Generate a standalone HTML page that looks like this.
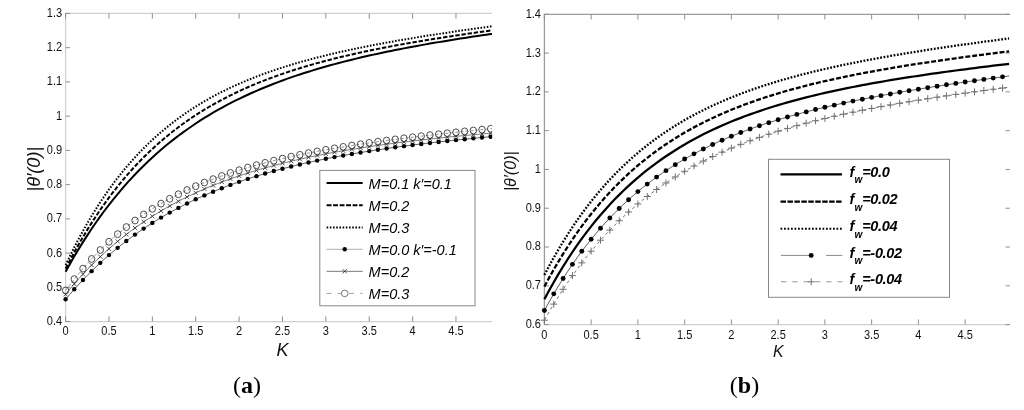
<!DOCTYPE html>
<html><head><meta charset="utf-8"><style>
html,body{margin:0;padding:0;background:#fff;}
body{width:1024px;height:410px;overflow:hidden;}
svg{display:block;will-change:transform;filter:blur(0.3px);}
text{font-family:"Liberation Sans",sans-serif;}
.tk{font-size:12px;fill:#111;}
.lg{font-size:14.5px;font-style:italic;fill:#000;}
.lb{font-size:14.5px;font-style:italic;font-weight:bold;fill:#000;}
.yl{font-style:italic;fill:#111;}
.kl{font-style:italic;fill:#111;}
.pl{font-family:"Liberation Serif",serif;font-weight:bold;font-size:24px;fill:#000;}
</style></head><body>
<svg width="1024" height="410" viewBox="0 0 1024 410">
<rect width="1024" height="410" fill="#fff"/>
<path d="M65.60,321.60 L492.00,321.60" stroke="#d0d0d0" stroke-width="1.3" fill="none"/>
<path d="M65.60,321.60 L65.60,13.44 L492.00,13.44" stroke="#d0d0d0" stroke-width="1.3" fill="none"/>
<path d="M65.60,321.60 L65.60,316.40 M65.60,13.44 L65.60,18.64 M108.97,321.60 L108.97,316.40 M108.97,13.44 L108.97,18.64 M152.35,321.60 L152.35,316.40 M152.35,13.44 L152.35,18.64 M195.72,321.60 L195.72,316.40 M195.72,13.44 L195.72,18.64 M239.10,321.60 L239.10,316.40 M239.10,13.44 L239.10,18.64 M282.48,321.60 L282.48,316.40 M282.48,13.44 L282.48,18.64 M325.85,321.60 L325.85,316.40 M325.85,13.44 L325.85,18.64 M369.23,321.60 L369.23,316.40 M369.23,13.44 L369.23,18.64 M412.60,321.60 L412.60,316.40 M412.60,13.44 L412.60,18.64 M455.98,321.60 L455.98,316.40 M455.98,13.44 L455.98,18.64 M65.60,321.60 L70.00,321.60 M65.60,287.36 L70.00,287.36 M65.60,253.12 L70.00,253.12 M65.60,218.88 L70.00,218.88 M65.60,184.64 L70.00,184.64 M65.60,150.40 L70.00,150.40 M65.60,116.16 L70.00,116.16 M65.60,81.92 L70.00,81.92 M65.60,47.68 L70.00,47.68 M65.60,13.44 L70.00,13.44" stroke="#8e8e8e" stroke-width="1" fill="none"/>
<text transform="translate(65.60,335.00) scale(0.92,1)" text-anchor="middle" class="tk">0</text>
<text transform="translate(108.97,335.00) scale(0.92,1)" text-anchor="middle" class="tk">0.5</text>
<text transform="translate(152.35,335.00) scale(0.92,1)" text-anchor="middle" class="tk">1</text>
<text transform="translate(195.72,335.00) scale(0.92,1)" text-anchor="middle" class="tk">1.5</text>
<text transform="translate(239.10,335.00) scale(0.92,1)" text-anchor="middle" class="tk">2</text>
<text transform="translate(282.48,335.00) scale(0.92,1)" text-anchor="middle" class="tk">2.5</text>
<text transform="translate(325.85,335.00) scale(0.92,1)" text-anchor="middle" class="tk">3</text>
<text transform="translate(369.23,335.00) scale(0.92,1)" text-anchor="middle" class="tk">3.5</text>
<text transform="translate(412.60,335.00) scale(0.92,1)" text-anchor="middle" class="tk">4</text>
<text transform="translate(455.98,335.00) scale(0.92,1)" text-anchor="middle" class="tk">4.5</text>
<text transform="translate(62.20,325.05) scale(0.92,1)" text-anchor="end" class="tk">0.4</text>
<text transform="translate(62.20,290.81) scale(0.92,1)" text-anchor="end" class="tk">0.5</text>
<text transform="translate(62.20,256.57) scale(0.92,1)" text-anchor="end" class="tk">0.6</text>
<text transform="translate(62.20,222.33) scale(0.92,1)" text-anchor="end" class="tk">0.7</text>
<text transform="translate(62.20,188.09) scale(0.92,1)" text-anchor="end" class="tk">0.8</text>
<text transform="translate(62.20,153.85) scale(0.92,1)" text-anchor="end" class="tk">0.9</text>
<text transform="translate(62.20,119.61) scale(0.92,1)" text-anchor="end" class="tk">1</text>
<text transform="translate(62.20,85.37) scale(0.92,1)" text-anchor="end" class="tk">1.1</text>
<text transform="translate(62.20,51.13) scale(0.92,1)" text-anchor="end" class="tk">1.2</text>
<text transform="translate(62.20,16.89) scale(0.92,1)" text-anchor="end" class="tk">1.3</text>
<path d="M544.40,324.60 L1009.80,324.60" stroke="#d0d0d0" stroke-width="1.3" fill="none"/>
<path d="M544.40,324.60 L544.40,14.30 L1009.80,14.30" stroke="#9c9c9c" stroke-width="1.3" fill="none"/>
<path d="M544.40,324.60 L544.40,319.40 M544.40,14.30 L544.40,19.50 M591.15,324.60 L591.15,319.40 M591.15,14.30 L591.15,19.50 M637.90,324.60 L637.90,319.40 M637.90,14.30 L637.90,19.50 M684.65,324.60 L684.65,319.40 M684.65,14.30 L684.65,19.50 M731.40,324.60 L731.40,319.40 M731.40,14.30 L731.40,19.50 M778.15,324.60 L778.15,319.40 M778.15,14.30 L778.15,19.50 M824.90,324.60 L824.90,319.40 M824.90,14.30 L824.90,19.50 M871.65,324.60 L871.65,319.40 M871.65,14.30 L871.65,19.50 M918.40,324.60 L918.40,319.40 M918.40,14.30 L918.40,19.50 M965.15,324.60 L965.15,319.40 M965.15,14.30 L965.15,19.50 M544.40,324.60 L548.80,324.60 M1009.80,324.60 L1005.60,324.60 M544.40,285.81 L548.80,285.81 M1009.80,285.81 L1005.60,285.81 M544.40,247.02 L548.80,247.02 M1009.80,247.02 L1005.60,247.02 M544.40,208.23 L548.80,208.23 M1009.80,208.23 L1005.60,208.23 M544.40,169.44 L548.80,169.44 M1009.80,169.44 L1005.60,169.44 M544.40,130.65 L548.80,130.65 M1009.80,130.65 L1005.60,130.65 M544.40,91.86 L548.80,91.86 M1009.80,91.86 L1005.60,91.86 M544.40,53.07 L548.80,53.07 M1009.80,53.07 L1005.60,53.07 M544.40,14.28 L548.80,14.28 M1009.80,14.28 L1005.60,14.28" stroke="#8e8e8e" stroke-width="1" fill="none"/>
<text transform="translate(544.40,339.00) scale(0.92,1)" text-anchor="middle" class="tk">0</text>
<text transform="translate(591.15,339.00) scale(0.92,1)" text-anchor="middle" class="tk">0.5</text>
<text transform="translate(637.90,339.00) scale(0.92,1)" text-anchor="middle" class="tk">1</text>
<text transform="translate(684.65,339.00) scale(0.92,1)" text-anchor="middle" class="tk">1.5</text>
<text transform="translate(731.40,339.00) scale(0.92,1)" text-anchor="middle" class="tk">2</text>
<text transform="translate(778.15,339.00) scale(0.92,1)" text-anchor="middle" class="tk">2.5</text>
<text transform="translate(824.90,339.00) scale(0.92,1)" text-anchor="middle" class="tk">3</text>
<text transform="translate(871.65,339.00) scale(0.92,1)" text-anchor="middle" class="tk">3.5</text>
<text transform="translate(918.40,339.00) scale(0.92,1)" text-anchor="middle" class="tk">4</text>
<text transform="translate(965.15,339.00) scale(0.92,1)" text-anchor="middle" class="tk">4.5</text>
<text transform="translate(541.00,328.05) scale(0.92,1)" text-anchor="end" class="tk">0.6</text>
<text transform="translate(541.00,289.26) scale(0.92,1)" text-anchor="end" class="tk">0.7</text>
<text transform="translate(541.00,250.47) scale(0.92,1)" text-anchor="end" class="tk">0.8</text>
<text transform="translate(541.00,211.68) scale(0.92,1)" text-anchor="end" class="tk">0.9</text>
<text transform="translate(541.00,172.89) scale(0.92,1)" text-anchor="end" class="tk">1</text>
<text transform="translate(541.00,134.10) scale(0.92,1)" text-anchor="end" class="tk">1.1</text>
<text transform="translate(541.00,95.31) scale(0.92,1)" text-anchor="end" class="tk">1.2</text>
<text transform="translate(541.00,56.52) scale(0.92,1)" text-anchor="end" class="tk">1.3</text>
<text transform="translate(541.00,17.73) scale(0.92,1)" text-anchor="end" class="tk">1.4</text>
<defs><clipPath id="ca"><rect x="60" y="13" width="432.2" height="312"/></clipPath><clipPath id="cb"><rect x="540" y="14" width="470" height="314"/></clipPath></defs>
<g clip-path="url(#ca)">
<path d="M65.60,299.32 L69.94,294.23 L74.27,289.31 L78.61,284.54 L82.95,279.93 L87.29,275.46 L91.62,271.13 L95.96,266.93 L100.30,262.87 L104.64,258.93 L108.97,255.12 L113.31,251.42 L117.65,247.84 L121.99,244.37 L126.33,241.01 L130.66,237.76 L135.00,234.60 L139.34,231.54 L143.68,228.58 L148.01,225.70 L152.35,222.92 L156.69,220.22 L161.03,217.60 L165.36,215.06 L169.70,212.60 L174.04,210.21 L178.38,207.89 L182.71,205.64 L187.05,203.47 L191.39,201.35 L195.72,199.30 L200.06,197.31 L204.40,195.38 L208.74,193.50 L213.08,191.68 L217.41,189.92 L221.75,188.20 L226.09,186.54 L230.43,184.92 L234.76,183.35 L239.10,181.83 L243.44,180.34 L247.78,178.90 L252.11,177.50 L256.45,176.14 L260.79,174.82 L265.12,173.54 L269.46,172.29 L273.80,171.07 L278.14,169.89 L282.48,168.74 L286.81,167.63 L291.15,166.54 L295.49,165.48 L299.83,164.45 L304.16,163.44 L308.50,162.47 L312.84,161.51 L317.18,160.59 L321.51,159.68 L325.85,158.80 L330.19,157.95 L334.52,157.11 L338.86,156.29 L343.20,155.50 L347.54,154.72 L351.88,153.96 L356.21,153.23 L360.55,152.50 L364.89,151.80 L369.23,151.11 L373.56,150.44 L377.90,149.78 L382.24,149.14 L386.58,148.51 L390.91,147.90 L395.25,147.30 L399.59,146.71 L403.93,146.14 L408.26,145.58 L412.60,145.03 L416.94,144.49 L421.28,143.96 L425.61,143.44 L429.95,142.94 L434.29,142.44 L438.62,141.95 L442.96,141.47 L447.30,141.01 L451.64,140.55 L455.98,140.09 L460.31,139.65 L464.65,139.21 L468.99,138.79 L473.33,138.37 L477.66,137.95 L482.00,137.54 L486.34,137.14 L490.68,136.75 L491.98,136.63" stroke="#333" stroke-width="0.8" fill="none"/>
<path d="M65.60,294.33 L69.94,289.04 L74.27,283.94 L78.61,279.00 L82.95,274.23 L87.29,269.62 L91.62,265.17 L95.96,260.86 L100.30,256.69 L104.64,252.67 L108.97,248.78 L113.31,245.01 L117.65,241.38 L121.99,237.86 L126.33,234.46 L130.66,231.17 L135.00,227.98 L139.34,224.91 L143.68,221.93 L148.01,219.05 L152.35,216.26 L156.69,213.56 L161.03,210.95 L165.36,208.43 L169.70,205.98 L174.04,203.61 L178.38,201.32 L182.71,199.11 L187.05,196.96 L191.39,194.88 L195.72,192.86 L200.06,190.91 L204.40,189.02 L208.74,187.19 L213.08,185.41 L217.41,183.69 L221.75,182.03 L226.09,180.41 L230.43,178.84 L234.76,177.33 L239.10,175.85 L243.44,174.42 L247.78,173.04 L252.11,171.69 L256.45,170.38 L260.79,169.12 L265.12,167.89 L269.46,166.69 L273.80,165.53 L278.14,164.40 L282.48,163.31 L286.81,162.25 L291.15,161.21 L295.49,160.21 L299.83,159.23 L304.16,158.28 L308.50,157.35 L312.84,156.45 L317.18,155.58 L321.51,154.73 L325.85,153.90 L330.19,153.09 L334.52,152.30 L338.86,151.53 L343.20,150.78 L347.54,150.06 L351.88,149.34 L356.21,148.65 L360.55,147.97 L364.89,147.31 L369.23,146.67 L373.56,146.04 L377.90,145.43 L382.24,144.83 L386.58,144.24 L390.91,143.66 L395.25,143.10 L399.59,142.55 L403.93,142.02 L408.26,141.49 L412.60,140.98 L416.94,140.47 L421.28,139.98 L425.61,139.49 L429.95,139.02 L434.29,138.56 L438.62,138.10 L442.96,137.65 L447.30,137.21 L451.64,136.78 L455.98,136.36 L460.31,135.94 L464.65,135.53 L468.99,135.13 L473.33,134.73 L477.66,134.34 L482.00,133.96 L486.34,133.58 L490.68,133.21 L491.98,133.10" stroke="#555" stroke-width="0.8" fill="none"/>
<path d="M65.60,290.45 L69.94,284.66 L74.27,279.10 L78.61,273.76 L82.95,268.63 L87.29,263.70 L91.62,258.96 L95.96,254.40 L100.30,250.02 L104.64,245.81 L108.97,241.77 L113.31,237.87 L117.65,234.13 L121.99,230.53 L126.33,227.06 L130.66,223.73 L135.00,220.52 L139.34,217.43 L143.68,214.46 L148.01,211.59 L152.35,208.84 L156.69,206.18 L161.03,203.62 L165.36,201.15 L169.70,198.77 L174.04,196.48 L178.38,194.27 L182.71,192.14 L187.05,190.08 L191.39,188.09 L195.72,186.17 L200.06,184.32 L204.40,182.53 L208.74,180.81 L213.08,179.14 L217.41,177.52 L221.75,175.96 L226.09,174.45 L230.43,172.99 L234.76,171.57 L239.10,170.21 L243.44,168.88 L247.78,167.59 L252.11,166.35 L256.45,165.14 L260.79,163.97 L265.12,162.83 L269.46,161.73 L273.80,160.65 L278.14,159.61 L282.48,158.60 L286.81,157.61 L291.15,156.66 L295.49,155.73 L299.83,154.82 L304.16,153.93 L308.50,153.07 L312.84,152.23 L317.18,151.41 L321.51,150.62 L325.85,149.84 L330.19,149.07 L334.52,148.33 L338.86,147.60 L343.20,146.89 L347.54,146.20 L351.88,145.52 L356.21,144.85 L360.55,144.19 L364.89,143.55 L369.23,142.93 L373.56,142.31 L377.90,141.71 L382.24,141.11 L386.58,140.53 L390.91,139.95 L395.25,139.39 L399.59,138.84 L403.93,138.29 L408.26,137.75 L412.60,137.22 L416.94,136.70 L421.28,136.19 L425.61,135.68 L429.95,135.18 L434.29,134.69 L438.62,134.20 L442.96,133.72 L447.30,133.24 L451.64,132.77 L455.98,132.31 L460.31,131.85 L464.65,131.39 L468.99,130.94 L473.33,130.50 L477.66,130.06 L482.00,129.62 L486.34,129.19 L490.68,128.76 L491.98,128.63" stroke="#777" stroke-width="0.8" fill="none" stroke-dasharray="3 2"/>
<ellipse cx="65.60" cy="290.45" rx="3.2" ry="3.45" fill="none" stroke="#3a3a3a" stroke-width="0.9"/><ellipse cx="74.27" cy="279.10" rx="3.2" ry="3.45" fill="none" stroke="#3a3a3a" stroke-width="0.9"/><ellipse cx="82.95" cy="268.63" rx="3.2" ry="3.45" fill="none" stroke="#3a3a3a" stroke-width="0.9"/><ellipse cx="91.62" cy="258.96" rx="3.2" ry="3.45" fill="none" stroke="#3a3a3a" stroke-width="0.9"/><ellipse cx="100.30" cy="250.02" rx="3.2" ry="3.45" fill="none" stroke="#3a3a3a" stroke-width="0.9"/><ellipse cx="108.97" cy="241.77" rx="3.2" ry="3.45" fill="none" stroke="#3a3a3a" stroke-width="0.9"/><ellipse cx="117.65" cy="234.13" rx="3.2" ry="3.45" fill="none" stroke="#3a3a3a" stroke-width="0.9"/><ellipse cx="126.32" cy="227.06" rx="3.2" ry="3.45" fill="none" stroke="#3a3a3a" stroke-width="0.9"/><ellipse cx="135.00" cy="220.52" rx="3.2" ry="3.45" fill="none" stroke="#3a3a3a" stroke-width="0.9"/><ellipse cx="143.68" cy="214.46" rx="3.2" ry="3.45" fill="none" stroke="#3a3a3a" stroke-width="0.9"/><ellipse cx="152.35" cy="208.84" rx="3.2" ry="3.45" fill="none" stroke="#3a3a3a" stroke-width="0.9"/><ellipse cx="161.03" cy="203.62" rx="3.2" ry="3.45" fill="none" stroke="#3a3a3a" stroke-width="0.9"/><ellipse cx="169.70" cy="198.77" rx="3.2" ry="3.45" fill="none" stroke="#3a3a3a" stroke-width="0.9"/><ellipse cx="178.38" cy="194.27" rx="3.2" ry="3.45" fill="none" stroke="#3a3a3a" stroke-width="0.9"/><ellipse cx="187.05" cy="190.08" rx="3.2" ry="3.45" fill="none" stroke="#3a3a3a" stroke-width="0.9"/><ellipse cx="195.72" cy="186.17" rx="3.2" ry="3.45" fill="none" stroke="#3a3a3a" stroke-width="0.9"/><ellipse cx="204.40" cy="182.53" rx="3.2" ry="3.45" fill="none" stroke="#3a3a3a" stroke-width="0.9"/><ellipse cx="213.07" cy="179.14" rx="3.2" ry="3.45" fill="none" stroke="#3a3a3a" stroke-width="0.9"/><ellipse cx="221.75" cy="175.96" rx="3.2" ry="3.45" fill="none" stroke="#3a3a3a" stroke-width="0.9"/><ellipse cx="230.42" cy="172.99" rx="3.2" ry="3.45" fill="none" stroke="#3a3a3a" stroke-width="0.9"/><ellipse cx="239.10" cy="170.21" rx="3.2" ry="3.45" fill="none" stroke="#3a3a3a" stroke-width="0.9"/><ellipse cx="247.78" cy="167.59" rx="3.2" ry="3.45" fill="none" stroke="#3a3a3a" stroke-width="0.9"/><ellipse cx="256.45" cy="165.14" rx="3.2" ry="3.45" fill="none" stroke="#3a3a3a" stroke-width="0.9"/><ellipse cx="265.12" cy="162.83" rx="3.2" ry="3.45" fill="none" stroke="#3a3a3a" stroke-width="0.9"/><ellipse cx="273.80" cy="160.65" rx="3.2" ry="3.45" fill="none" stroke="#3a3a3a" stroke-width="0.9"/><ellipse cx="282.48" cy="158.60" rx="3.2" ry="3.45" fill="none" stroke="#3a3a3a" stroke-width="0.9"/><ellipse cx="291.15" cy="156.66" rx="3.2" ry="3.45" fill="none" stroke="#3a3a3a" stroke-width="0.9"/><ellipse cx="299.83" cy="154.82" rx="3.2" ry="3.45" fill="none" stroke="#3a3a3a" stroke-width="0.9"/><ellipse cx="308.50" cy="153.07" rx="3.2" ry="3.45" fill="none" stroke="#3a3a3a" stroke-width="0.9"/><ellipse cx="317.17" cy="151.41" rx="3.2" ry="3.45" fill="none" stroke="#3a3a3a" stroke-width="0.9"/><ellipse cx="325.85" cy="149.84" rx="3.2" ry="3.45" fill="none" stroke="#3a3a3a" stroke-width="0.9"/><ellipse cx="334.52" cy="148.33" rx="3.2" ry="3.45" fill="none" stroke="#3a3a3a" stroke-width="0.9"/><ellipse cx="343.20" cy="146.89" rx="3.2" ry="3.45" fill="none" stroke="#3a3a3a" stroke-width="0.9"/><ellipse cx="351.88" cy="145.52" rx="3.2" ry="3.45" fill="none" stroke="#3a3a3a" stroke-width="0.9"/><ellipse cx="360.55" cy="144.19" rx="3.2" ry="3.45" fill="none" stroke="#3a3a3a" stroke-width="0.9"/><ellipse cx="369.23" cy="142.93" rx="3.2" ry="3.45" fill="none" stroke="#3a3a3a" stroke-width="0.9"/><ellipse cx="377.90" cy="141.71" rx="3.2" ry="3.45" fill="none" stroke="#3a3a3a" stroke-width="0.9"/><ellipse cx="386.58" cy="140.53" rx="3.2" ry="3.45" fill="none" stroke="#3a3a3a" stroke-width="0.9"/><ellipse cx="395.25" cy="139.39" rx="3.2" ry="3.45" fill="none" stroke="#3a3a3a" stroke-width="0.9"/><ellipse cx="403.92" cy="138.29" rx="3.2" ry="3.45" fill="none" stroke="#3a3a3a" stroke-width="0.9"/><ellipse cx="412.60" cy="137.22" rx="3.2" ry="3.45" fill="none" stroke="#3a3a3a" stroke-width="0.9"/><ellipse cx="421.27" cy="136.19" rx="3.2" ry="3.45" fill="none" stroke="#3a3a3a" stroke-width="0.9"/><ellipse cx="429.95" cy="135.18" rx="3.2" ry="3.45" fill="none" stroke="#3a3a3a" stroke-width="0.9"/><ellipse cx="438.62" cy="134.20" rx="3.2" ry="3.45" fill="none" stroke="#3a3a3a" stroke-width="0.9"/><ellipse cx="447.30" cy="133.24" rx="3.2" ry="3.45" fill="none" stroke="#3a3a3a" stroke-width="0.9"/><ellipse cx="455.98" cy="132.31" rx="3.2" ry="3.45" fill="none" stroke="#3a3a3a" stroke-width="0.9"/><ellipse cx="464.65" cy="131.39" rx="3.2" ry="3.45" fill="none" stroke="#3a3a3a" stroke-width="0.9"/><ellipse cx="473.33" cy="130.50" rx="3.2" ry="3.45" fill="none" stroke="#3a3a3a" stroke-width="0.9"/><ellipse cx="482.00" cy="129.62" rx="3.2" ry="3.45" fill="none" stroke="#3a3a3a" stroke-width="0.9"/><ellipse cx="490.68" cy="128.76" rx="3.2" ry="3.45" fill="none" stroke="#3a3a3a" stroke-width="0.9"/>
<path d="M63.50,292.23 L67.70,296.43 M63.50,296.43 L67.70,292.23" stroke="#333" stroke-width="0.85" fill="none"/><path d="M72.17,281.84 L76.37,286.04 M72.17,286.04 L76.37,281.84" stroke="#333" stroke-width="0.85" fill="none"/><path d="M80.85,272.13 L85.05,276.33 M80.85,276.33 L85.05,272.13" stroke="#333" stroke-width="0.85" fill="none"/><path d="M89.53,263.07 L93.72,267.27 M89.53,267.27 L93.72,263.07" stroke="#333" stroke-width="0.85" fill="none"/><path d="M98.20,254.59 L102.40,258.79 M98.20,258.79 L102.40,254.59" stroke="#333" stroke-width="0.85" fill="none"/><path d="M106.88,246.68 L111.07,250.88 M106.88,250.88 L111.07,246.68" stroke="#333" stroke-width="0.85" fill="none"/><path d="M115.55,239.28 L119.75,243.48 M115.55,243.48 L119.75,239.28" stroke="#333" stroke-width="0.85" fill="none"/><path d="M124.22,232.36 L128.42,236.56 M124.22,236.56 L128.42,232.36" stroke="#333" stroke-width="0.85" fill="none"/><path d="M132.90,225.88 L137.10,230.08 M132.90,230.08 L137.10,225.88" stroke="#333" stroke-width="0.85" fill="none"/><path d="M141.58,219.83 L145.78,224.03 M141.58,224.03 L145.78,219.83" stroke="#333" stroke-width="0.85" fill="none"/><path d="M150.25,214.16 L154.45,218.36 M150.25,218.36 L154.45,214.16" stroke="#333" stroke-width="0.85" fill="none"/><path d="M158.93,208.85 L163.12,213.05 M158.93,213.05 L163.12,208.85" stroke="#333" stroke-width="0.85" fill="none"/><path d="M167.60,203.88 L171.80,208.08 M167.60,208.08 L171.80,203.88" stroke="#333" stroke-width="0.85" fill="none"/><path d="M176.28,199.22 L180.47,203.42 M176.28,203.42 L180.47,199.22" stroke="#333" stroke-width="0.85" fill="none"/><path d="M184.95,194.86 L189.15,199.06 M184.95,199.06 L189.15,194.86" stroke="#333" stroke-width="0.85" fill="none"/><path d="M193.62,190.76 L197.82,194.96 M193.62,194.96 L197.82,190.76" stroke="#333" stroke-width="0.85" fill="none"/><path d="M202.30,186.92 L206.50,191.12 M202.30,191.12 L206.50,186.92" stroke="#333" stroke-width="0.85" fill="none"/><path d="M210.97,183.31 L215.17,187.51 M210.97,187.51 L215.17,183.31" stroke="#333" stroke-width="0.85" fill="none"/><path d="M219.65,179.93 L223.85,184.13 M219.65,184.13 L223.85,179.93" stroke="#333" stroke-width="0.85" fill="none"/><path d="M228.32,176.74 L232.52,180.94 M228.32,180.94 L232.52,176.74" stroke="#333" stroke-width="0.85" fill="none"/><path d="M237.00,173.75 L241.20,177.95 M237.00,177.95 L241.20,173.75" stroke="#333" stroke-width="0.85" fill="none"/><path d="M245.68,170.94 L249.88,175.14 M245.68,175.14 L249.88,170.94" stroke="#333" stroke-width="0.85" fill="none"/><path d="M254.35,168.28 L258.55,172.48 M254.35,172.48 L258.55,168.28" stroke="#333" stroke-width="0.85" fill="none"/><path d="M263.02,165.79 L267.23,169.99 M263.02,169.99 L267.23,165.79" stroke="#333" stroke-width="0.85" fill="none"/><path d="M271.70,163.43 L275.90,167.63 M271.70,167.63 L275.90,163.43" stroke="#333" stroke-width="0.85" fill="none"/><path d="M280.38,161.21 L284.58,165.41 M280.38,165.41 L284.58,161.21" stroke="#333" stroke-width="0.85" fill="none"/><path d="M289.05,159.11 L293.25,163.31 M289.05,163.31 L293.25,159.11" stroke="#333" stroke-width="0.85" fill="none"/><path d="M297.73,157.13 L301.93,161.33 M297.73,161.33 L301.93,157.13" stroke="#333" stroke-width="0.85" fill="none"/><path d="M306.40,155.25 L310.60,159.45 M306.40,159.45 L310.60,155.25" stroke="#333" stroke-width="0.85" fill="none"/><path d="M315.07,153.48 L319.27,157.68 M315.07,157.68 L319.27,153.48" stroke="#333" stroke-width="0.85" fill="none"/><path d="M323.75,151.80 L327.95,156.00 M323.75,156.00 L327.95,151.80" stroke="#333" stroke-width="0.85" fill="none"/><path d="M332.42,150.20 L336.62,154.40 M332.42,154.40 L336.62,150.20" stroke="#333" stroke-width="0.85" fill="none"/><path d="M341.10,148.68 L345.30,152.88 M341.10,152.88 L345.30,148.68" stroke="#333" stroke-width="0.85" fill="none"/><path d="M349.77,147.24 L353.98,151.44 M349.77,151.44 L353.98,147.24" stroke="#333" stroke-width="0.85" fill="none"/><path d="M358.45,145.87 L362.65,150.07 M358.45,150.07 L362.65,145.87" stroke="#333" stroke-width="0.85" fill="none"/><path d="M367.12,144.57 L371.33,148.77 M367.12,148.77 L371.33,144.57" stroke="#333" stroke-width="0.85" fill="none"/><path d="M375.80,143.33 L380.00,147.53 M375.80,147.53 L380.00,143.33" stroke="#333" stroke-width="0.85" fill="none"/><path d="M384.48,142.14 L388.68,146.34 M384.48,146.34 L388.68,142.14" stroke="#333" stroke-width="0.85" fill="none"/><path d="M393.15,141.00 L397.35,145.20 M393.15,145.20 L397.35,141.00" stroke="#333" stroke-width="0.85" fill="none"/><path d="M401.82,139.92 L406.02,144.12 M401.82,144.12 L406.02,139.92" stroke="#333" stroke-width="0.85" fill="none"/><path d="M410.50,138.88 L414.70,143.08 M410.50,143.08 L414.70,138.88" stroke="#333" stroke-width="0.85" fill="none"/><path d="M419.17,137.88 L423.38,142.08 M419.17,142.08 L423.38,137.88" stroke="#333" stroke-width="0.85" fill="none"/><path d="M427.85,136.92 L432.05,141.12 M427.85,141.12 L432.05,136.92" stroke="#333" stroke-width="0.85" fill="none"/><path d="M436.52,136.00 L440.73,140.20 M436.52,140.20 L440.73,136.00" stroke="#333" stroke-width="0.85" fill="none"/><path d="M445.20,135.11 L449.40,139.31 M445.20,139.31 L449.40,135.11" stroke="#333" stroke-width="0.85" fill="none"/><path d="M453.88,134.26 L458.08,138.46 M453.88,138.46 L458.08,134.26" stroke="#333" stroke-width="0.85" fill="none"/><path d="M462.55,133.43 L466.75,137.63 M462.55,137.63 L466.75,133.43" stroke="#333" stroke-width="0.85" fill="none"/><path d="M471.23,132.63 L475.43,136.83 M471.23,136.83 L475.43,132.63" stroke="#333" stroke-width="0.85" fill="none"/><path d="M479.90,131.86 L484.10,136.06 M479.90,136.06 L484.10,131.86" stroke="#333" stroke-width="0.85" fill="none"/><path d="M488.58,131.11 L492.78,135.31 M488.58,135.31 L492.78,131.11" stroke="#333" stroke-width="0.85" fill="none"/>
<circle cx="65.60" cy="299.32" r="2.2" fill="#000"/><circle cx="74.27" cy="289.31" r="2.2" fill="#000"/><circle cx="82.95" cy="279.93" r="2.2" fill="#000"/><circle cx="91.62" cy="271.13" r="2.2" fill="#000"/><circle cx="100.30" cy="262.87" r="2.2" fill="#000"/><circle cx="108.97" cy="255.12" r="2.2" fill="#000"/><circle cx="117.65" cy="247.84" r="2.2" fill="#000"/><circle cx="126.32" cy="241.01" r="2.2" fill="#000"/><circle cx="135.00" cy="234.60" r="2.2" fill="#000"/><circle cx="143.68" cy="228.58" r="2.2" fill="#000"/><circle cx="152.35" cy="222.92" r="2.2" fill="#000"/><circle cx="161.03" cy="217.60" r="2.2" fill="#000"/><circle cx="169.70" cy="212.60" r="2.2" fill="#000"/><circle cx="178.38" cy="207.89" r="2.2" fill="#000"/><circle cx="187.05" cy="203.47" r="2.2" fill="#000"/><circle cx="195.72" cy="199.30" r="2.2" fill="#000"/><circle cx="204.40" cy="195.38" r="2.2" fill="#000"/><circle cx="213.07" cy="191.68" r="2.2" fill="#000"/><circle cx="221.75" cy="188.20" r="2.2" fill="#000"/><circle cx="230.42" cy="184.92" r="2.2" fill="#000"/><circle cx="239.10" cy="181.83" r="2.2" fill="#000"/><circle cx="247.78" cy="178.90" r="2.2" fill="#000"/><circle cx="256.45" cy="176.14" r="2.2" fill="#000"/><circle cx="265.12" cy="173.54" r="2.2" fill="#000"/><circle cx="273.80" cy="171.07" r="2.2" fill="#000"/><circle cx="282.48" cy="168.74" r="2.2" fill="#000"/><circle cx="291.15" cy="166.54" r="2.2" fill="#000"/><circle cx="299.83" cy="164.45" r="2.2" fill="#000"/><circle cx="308.50" cy="162.47" r="2.2" fill="#000"/><circle cx="317.17" cy="160.59" r="2.2" fill="#000"/><circle cx="325.85" cy="158.80" r="2.2" fill="#000"/><circle cx="334.52" cy="157.11" r="2.2" fill="#000"/><circle cx="343.20" cy="155.50" r="2.2" fill="#000"/><circle cx="351.88" cy="153.96" r="2.2" fill="#000"/><circle cx="360.55" cy="152.50" r="2.2" fill="#000"/><circle cx="369.23" cy="151.11" r="2.2" fill="#000"/><circle cx="377.90" cy="149.78" r="2.2" fill="#000"/><circle cx="386.58" cy="148.51" r="2.2" fill="#000"/><circle cx="395.25" cy="147.30" r="2.2" fill="#000"/><circle cx="403.92" cy="146.14" r="2.2" fill="#000"/><circle cx="412.60" cy="145.03" r="2.2" fill="#000"/><circle cx="421.27" cy="143.96" r="2.2" fill="#000"/><circle cx="429.95" cy="142.94" r="2.2" fill="#000"/><circle cx="438.62" cy="141.95" r="2.2" fill="#000"/><circle cx="447.30" cy="141.01" r="2.2" fill="#000"/><circle cx="455.98" cy="140.09" r="2.2" fill="#000"/><circle cx="464.65" cy="139.21" r="2.2" fill="#000"/><circle cx="473.33" cy="138.37" r="2.2" fill="#000"/><circle cx="482.00" cy="137.54" r="2.2" fill="#000"/><circle cx="490.68" cy="136.75" r="2.2" fill="#000"/>
<path d="M65.60,271.67 L69.94,263.89 L74.27,256.37 L78.61,249.12 L82.95,242.11 L87.29,235.35 L91.62,228.81 L95.96,222.50 L100.30,216.41 L104.64,210.52 L108.97,204.84 L113.31,199.34 L117.65,194.03 L121.99,188.90 L126.33,183.95 L130.66,179.16 L135.00,174.52 L139.34,170.05 L143.68,165.72 L148.01,161.53 L152.35,157.48 L156.69,153.56 L161.03,149.78 L165.36,146.11 L169.70,142.56 L174.04,139.13 L178.38,135.81 L182.71,132.59 L187.05,129.48 L191.39,126.46 L195.72,123.54 L200.06,120.71 L204.40,117.97 L208.74,115.31 L213.08,112.73 L217.41,110.24 L221.75,107.81 L226.09,105.47 L230.43,103.19 L234.76,100.98 L239.10,98.83 L243.44,96.75 L247.78,94.73 L252.11,92.77 L256.45,90.86 L260.79,89.01 L265.12,87.21 L269.46,85.46 L273.80,83.76 L278.14,82.10 L282.48,80.49 L286.81,78.93 L291.15,77.40 L295.49,75.92 L299.83,74.47 L304.16,73.06 L308.50,71.69 L312.84,70.35 L317.18,69.05 L321.51,67.77 L325.85,66.53 L330.19,65.32 L334.52,64.14 L338.86,62.98 L343.20,61.85 L347.54,60.75 L351.88,59.67 L356.21,58.62 L360.55,57.58 L364.89,56.58 L369.23,55.59 L373.56,54.62 L377.90,53.67 L382.24,52.74 L386.58,51.83 L390.91,50.94 L395.25,50.07 L399.59,49.21 L403.93,48.36 L408.26,47.54 L412.60,46.72 L416.94,45.92 L421.28,45.14 L425.61,44.36 L429.95,43.61 L434.29,42.86 L438.62,42.12 L442.96,41.40 L447.30,40.68 L451.64,39.98 L455.98,39.29 L460.31,38.60 L464.65,37.93 L468.99,37.27 L473.33,36.61 L477.66,35.96 L482.00,35.32 L486.34,34.69 L490.68,34.07 L491.98,33.88" stroke="#000" stroke-width="2" fill="none"/>
<path d="M65.60,268.81 L69.94,260.40 L74.27,252.31 L78.61,244.52 L82.95,237.03 L87.29,229.82 L91.62,222.89 L95.96,216.21 L100.30,209.79 L104.64,203.61 L108.97,197.65 L113.31,191.92 L117.65,186.40 L121.99,181.09 L126.33,175.97 L130.66,171.04 L135.00,166.29 L139.34,161.71 L143.68,157.30 L148.01,153.04 L152.35,148.94 L156.69,144.99 L161.03,141.18 L165.36,137.50 L169.70,133.96 L174.04,130.54 L178.38,127.24 L182.71,124.05 L187.05,120.97 L191.39,118.00 L195.72,115.13 L200.06,112.36 L204.40,109.68 L208.74,107.09 L213.08,104.59 L217.41,102.17 L221.75,99.83 L226.09,97.56 L230.43,95.37 L234.76,93.25 L239.10,91.20 L243.44,89.21 L247.78,87.28 L252.11,85.42 L256.45,83.61 L260.79,81.85 L265.12,80.15 L269.46,78.50 L273.80,76.89 L278.14,75.34 L282.48,73.82 L286.81,72.36 L291.15,70.93 L295.49,69.54 L299.83,68.19 L304.16,66.87 L308.50,65.60 L312.84,64.35 L317.18,63.14 L321.51,61.95 L325.85,60.80 L330.19,59.68 L334.52,58.58 L338.86,57.51 L343.20,56.46 L347.54,55.44 L351.88,54.44 L356.21,53.47 L360.55,52.51 L364.89,51.58 L369.23,50.66 L373.56,49.77 L377.90,48.89 L382.24,48.03 L386.58,47.19 L390.91,46.36 L395.25,45.55 L399.59,44.75 L403.93,43.97 L408.26,43.20 L412.60,42.44 L416.94,41.70 L421.28,40.96 L425.61,40.24 L429.95,39.53 L434.29,38.84 L438.62,38.15 L442.96,37.47 L447.30,36.80 L451.64,36.14 L455.98,35.49 L460.31,34.84 L464.65,34.21 L468.99,33.58 L473.33,32.96 L477.66,32.35 L482.00,31.74 L486.34,31.14 L490.68,30.55 L491.98,30.37" stroke="#000" stroke-width="2" fill="none" stroke-dasharray="4.4 1.8"/>
<path d="M65.60,265.11 L69.94,256.01 L74.27,247.29 L78.61,238.94 L82.95,230.94 L87.29,223.28 L91.62,215.94 L95.96,208.90 L100.30,202.16 L104.64,195.70 L108.97,189.50 L113.31,183.56 L117.65,177.86 L121.99,172.40 L126.33,167.15 L130.66,162.12 L135.00,157.30 L139.34,152.66 L143.68,148.21 L148.01,143.94 L152.35,139.84 L156.69,135.90 L161.03,132.11 L165.36,128.47 L169.70,124.98 L174.04,121.61 L178.38,118.38 L182.71,115.26 L187.05,112.27 L191.39,109.38 L195.72,106.61 L200.06,103.93 L204.40,101.35 L208.74,98.87 L213.08,96.47 L217.41,94.16 L221.75,91.94 L226.09,89.78 L230.43,87.71 L234.76,85.70 L239.10,83.76 L243.44,81.89 L247.78,80.08 L252.11,78.32 L256.45,76.63 L260.79,74.98 L265.12,73.39 L269.46,71.85 L273.80,70.35 L278.14,68.90 L282.48,67.50 L286.81,66.13 L291.15,64.80 L295.49,63.51 L299.83,62.26 L304.16,61.03 L308.50,59.85 L312.84,58.69 L317.18,57.56 L321.51,56.46 L325.85,55.39 L330.19,54.34 L334.52,53.32 L338.86,52.33 L343.20,51.35 L347.54,50.40 L351.88,49.46 L356.21,48.55 L360.55,47.66 L364.89,46.78 L369.23,45.92 L373.56,45.08 L377.90,44.25 L382.24,43.44 L386.58,42.64 L390.91,41.85 L395.25,41.08 L399.59,40.32 L403.93,39.58 L408.26,38.84 L412.60,38.11 L416.94,37.40 L421.28,36.70 L425.61,36.00 L429.95,35.31 L434.29,34.64 L438.62,33.97 L442.96,33.31 L447.30,32.65 L451.64,32.00 L455.98,31.36 L460.31,30.73 L464.65,30.10 L468.99,29.48 L473.33,28.87 L477.66,28.26 L482.00,27.65 L486.34,27.05 L490.68,26.46 L491.98,26.28" stroke="#000" stroke-width="2" fill="none" stroke-dasharray="1.6 1.6"/>
</g><g clip-path="url(#cb)">
<path d="M544.40,320.20 L549.07,312.02 L553.75,304.15 L558.42,296.59 L563.10,289.31 L567.77,282.32 L572.45,275.59 L577.12,269.11 L581.80,262.88 L586.48,256.89 L591.15,251.12 L595.82,245.57 L600.50,240.22 L605.17,235.08 L609.85,230.12 L614.52,225.35 L619.20,220.75 L623.88,216.32 L628.55,212.05 L633.23,207.94 L637.90,203.98 L642.57,200.16 L647.25,196.47 L651.92,192.92 L656.60,189.49 L661.27,186.18 L665.95,182.99 L670.62,179.91 L675.30,176.93 L679.98,174.06 L684.65,171.29 L689.33,168.60 L694.00,166.01 L698.67,163.51 L703.35,161.09 L708.02,158.74 L712.70,156.48 L717.38,154.29 L722.05,152.16 L726.73,150.11 L731.40,148.12 L736.08,146.19 L740.75,144.32 L745.42,142.50 L750.10,140.74 L754.77,139.04 L759.45,137.38 L764.12,135.77 L768.80,134.21 L773.48,132.70 L778.15,131.22 L782.83,129.79 L787.50,128.39 L792.17,127.03 L796.85,125.71 L801.52,124.43 L806.20,123.17 L810.88,121.95 L815.55,120.76 L820.22,119.59 L824.90,118.46 L829.58,117.35 L834.25,116.27 L838.92,115.21 L843.60,114.18 L848.27,113.17 L852.95,112.18 L857.62,111.21 L862.30,110.26 L866.97,109.33 L871.65,108.42 L876.33,107.53 L881.00,106.65 L885.67,105.79 L890.35,104.95 L895.02,104.12 L899.70,103.31 L904.38,102.51 L909.05,101.72 L913.72,100.94 L918.40,100.18 L923.08,99.43 L927.75,98.69 L932.42,97.96 L937.10,97.24 L941.77,96.53 L946.45,95.83 L951.12,95.14 L955.80,94.46 L960.47,93.79 L965.15,93.12 L969.83,92.46 L974.50,91.81 L979.17,91.17 L983.85,90.53 L988.52,89.90 L993.20,89.28 L997.88,88.66 L1002.55,88.05 L1007.22,87.44 L1009.10,87.20" stroke="#5a5a5a" stroke-width="0.85" fill="none" stroke-dasharray="3.2 3"/>
<path d="M544.40,310.54 L549.07,302.03 L553.75,293.86 L558.42,286.03 L563.10,278.51 L567.77,271.29 L572.45,264.36 L577.12,257.71 L581.80,251.32 L586.48,245.18 L591.15,239.29 L595.82,233.63 L600.50,228.19 L605.17,222.97 L609.85,217.94 L614.52,213.11 L619.20,208.47 L623.88,204.00 L628.55,199.71 L633.23,195.58 L637.90,191.60 L642.57,187.77 L647.25,184.09 L651.92,180.54 L656.60,177.12 L661.27,173.83 L665.95,170.66 L670.62,167.60 L675.30,164.65 L679.98,161.81 L684.65,159.06 L689.33,156.42 L694.00,153.86 L698.67,151.39 L703.35,149.01 L708.02,146.70 L712.70,144.48 L717.38,142.32 L722.05,140.24 L726.73,138.23 L731.40,136.28 L736.08,134.39 L740.75,132.56 L745.42,130.78 L750.10,129.07 L754.77,127.40 L759.45,125.78 L764.12,124.21 L768.80,122.68 L773.48,121.20 L778.15,119.76 L782.83,118.36 L787.50,117.00 L792.17,115.67 L796.85,114.38 L801.52,113.12 L806.20,111.90 L810.88,110.70 L815.55,109.53 L820.22,108.39 L824.90,107.28 L829.58,106.20 L834.25,105.13 L838.92,104.09 L843.60,103.08 L848.27,102.08 L852.95,101.11 L857.62,100.15 L862.30,99.22 L866.97,98.30 L871.65,97.40 L876.33,96.51 L881.00,95.65 L885.67,94.79 L890.35,93.95 L895.02,93.13 L899.70,92.31 L904.38,91.51 L909.05,90.73 L913.72,89.95 L918.40,89.18 L923.08,88.43 L927.75,87.69 L932.42,86.95 L937.10,86.23 L941.77,85.51 L946.45,84.80 L951.12,84.10 L955.80,83.41 L960.47,82.72 L965.15,82.05 L969.83,81.37 L974.50,80.71 L979.17,80.05 L983.85,79.40 L988.52,78.75 L993.20,78.11 L997.88,77.48 L1002.55,76.85 L1007.22,76.22 L1009.10,75.97" stroke="#333" stroke-width="0.8" fill="none"/>
<path d="M540.90,320.20 L547.90,320.20 M544.40,316.70 L544.40,323.70" stroke="#707070" stroke-width="1" fill="none"/><path d="M550.25,304.15 L557.25,304.15 M553.75,300.65 L553.75,307.65" stroke="#707070" stroke-width="1" fill="none"/><path d="M559.60,289.31 L566.60,289.31 M563.10,285.81 L563.10,292.81" stroke="#707070" stroke-width="1" fill="none"/><path d="M568.95,275.59 L575.95,275.59 M572.45,272.09 L572.45,279.09" stroke="#707070" stroke-width="1" fill="none"/><path d="M578.30,262.88 L585.30,262.88 M581.80,259.38 L581.80,266.38" stroke="#707070" stroke-width="1" fill="none"/><path d="M587.65,251.12 L594.65,251.12 M591.15,247.62 L591.15,254.62" stroke="#707070" stroke-width="1" fill="none"/><path d="M597.00,240.22 L604.00,240.22 M600.50,236.72 L600.50,243.72" stroke="#707070" stroke-width="1" fill="none"/><path d="M606.35,230.12 L613.35,230.12 M609.85,226.62 L609.85,233.62" stroke="#707070" stroke-width="1" fill="none"/><path d="M615.70,220.75 L622.70,220.75 M619.20,217.25 L619.20,224.25" stroke="#707070" stroke-width="1" fill="none"/><path d="M625.05,212.05 L632.05,212.05 M628.55,208.55 L628.55,215.55" stroke="#707070" stroke-width="1" fill="none"/><path d="M634.40,203.98 L641.40,203.98 M637.90,200.48 L637.90,207.48" stroke="#707070" stroke-width="1" fill="none"/><path d="M643.75,196.47 L650.75,196.47 M647.25,192.97 L647.25,199.97" stroke="#707070" stroke-width="1" fill="none"/><path d="M653.10,189.49 L660.10,189.49 M656.60,185.99 L656.60,192.99" stroke="#707070" stroke-width="1" fill="none"/><path d="M662.45,182.99 L669.45,182.99 M665.95,179.49 L665.95,186.49" stroke="#707070" stroke-width="1" fill="none"/><path d="M671.80,176.93 L678.80,176.93 M675.30,173.43 L675.30,180.43" stroke="#707070" stroke-width="1" fill="none"/><path d="M681.15,171.29 L688.15,171.29 M684.65,167.79 L684.65,174.79" stroke="#707070" stroke-width="1" fill="none"/><path d="M690.50,166.01 L697.50,166.01 M694.00,162.51 L694.00,169.51" stroke="#707070" stroke-width="1" fill="none"/><path d="M699.85,161.09 L706.85,161.09 M703.35,157.59 L703.35,164.59" stroke="#707070" stroke-width="1" fill="none"/><path d="M709.20,156.48 L716.20,156.48 M712.70,152.98 L712.70,159.98" stroke="#707070" stroke-width="1" fill="none"/><path d="M718.55,152.16 L725.55,152.16 M722.05,148.66 L722.05,155.66" stroke="#707070" stroke-width="1" fill="none"/><path d="M727.90,148.12 L734.90,148.12 M731.40,144.62 L731.40,151.62" stroke="#707070" stroke-width="1" fill="none"/><path d="M737.25,144.32 L744.25,144.32 M740.75,140.82 L740.75,147.82" stroke="#707070" stroke-width="1" fill="none"/><path d="M746.60,140.74 L753.60,140.74 M750.10,137.24 L750.10,144.24" stroke="#707070" stroke-width="1" fill="none"/><path d="M755.95,137.38 L762.95,137.38 M759.45,133.88 L759.45,140.88" stroke="#707070" stroke-width="1" fill="none"/><path d="M765.30,134.21 L772.30,134.21 M768.80,130.71 L768.80,137.71" stroke="#707070" stroke-width="1" fill="none"/><path d="M774.65,131.22 L781.65,131.22 M778.15,127.72 L778.15,134.72" stroke="#707070" stroke-width="1" fill="none"/><path d="M784.00,128.39 L791.00,128.39 M787.50,124.89 L787.50,131.89" stroke="#707070" stroke-width="1" fill="none"/><path d="M793.35,125.71 L800.35,125.71 M796.85,122.21 L796.85,129.21" stroke="#707070" stroke-width="1" fill="none"/><path d="M802.70,123.17 L809.70,123.17 M806.20,119.67 L806.20,126.67" stroke="#707070" stroke-width="1" fill="none"/><path d="M812.05,120.76 L819.05,120.76 M815.55,117.26 L815.55,124.26" stroke="#707070" stroke-width="1" fill="none"/><path d="M821.40,118.46 L828.40,118.46 M824.90,114.96 L824.90,121.96" stroke="#707070" stroke-width="1" fill="none"/><path d="M830.75,116.27 L837.75,116.27 M834.25,112.77 L834.25,119.77" stroke="#707070" stroke-width="1" fill="none"/><path d="M840.10,114.18 L847.10,114.18 M843.60,110.68 L843.60,117.68" stroke="#707070" stroke-width="1" fill="none"/><path d="M849.45,112.18 L856.45,112.18 M852.95,108.68 L852.95,115.68" stroke="#707070" stroke-width="1" fill="none"/><path d="M858.80,110.26 L865.80,110.26 M862.30,106.76 L862.30,113.76" stroke="#707070" stroke-width="1" fill="none"/><path d="M868.15,108.42 L875.15,108.42 M871.65,104.92 L871.65,111.92" stroke="#707070" stroke-width="1" fill="none"/><path d="M877.50,106.65 L884.50,106.65 M881.00,103.15 L881.00,110.15" stroke="#707070" stroke-width="1" fill="none"/><path d="M886.85,104.95 L893.85,104.95 M890.35,101.45 L890.35,108.45" stroke="#707070" stroke-width="1" fill="none"/><path d="M896.20,103.31 L903.20,103.31 M899.70,99.81 L899.70,106.81" stroke="#707070" stroke-width="1" fill="none"/><path d="M905.55,101.72 L912.55,101.72 M909.05,98.22 L909.05,105.22" stroke="#707070" stroke-width="1" fill="none"/><path d="M914.90,100.18 L921.90,100.18 M918.40,96.68 L918.40,103.68" stroke="#707070" stroke-width="1" fill="none"/><path d="M924.25,98.69 L931.25,98.69 M927.75,95.19 L927.75,102.19" stroke="#707070" stroke-width="1" fill="none"/><path d="M933.60,97.24 L940.60,97.24 M937.10,93.74 L937.10,100.74" stroke="#707070" stroke-width="1" fill="none"/><path d="M942.95,95.83 L949.95,95.83 M946.45,92.33 L946.45,99.33" stroke="#707070" stroke-width="1" fill="none"/><path d="M952.30,94.46 L959.30,94.46 M955.80,90.96 L955.80,97.96" stroke="#707070" stroke-width="1" fill="none"/><path d="M961.65,93.12 L968.65,93.12 M965.15,89.62 L965.15,96.62" stroke="#707070" stroke-width="1" fill="none"/><path d="M971.00,91.81 L978.00,91.81 M974.50,88.31 L974.50,95.31" stroke="#707070" stroke-width="1" fill="none"/><path d="M980.35,90.53 L987.35,90.53 M983.85,87.03 L983.85,94.03" stroke="#707070" stroke-width="1" fill="none"/><path d="M989.70,89.28 L996.70,89.28 M993.20,85.78 L993.20,92.78" stroke="#707070" stroke-width="1" fill="none"/><path d="M999.05,88.05 L1006.05,88.05 M1002.55,84.55 L1002.55,91.55" stroke="#707070" stroke-width="1" fill="none"/>
<circle cx="544.40" cy="310.54" r="2.45" fill="#000"/><circle cx="553.75" cy="293.86" r="2.45" fill="#000"/><circle cx="563.10" cy="278.51" r="2.45" fill="#000"/><circle cx="572.45" cy="264.36" r="2.45" fill="#000"/><circle cx="581.80" cy="251.32" r="2.45" fill="#000"/><circle cx="591.15" cy="239.29" r="2.45" fill="#000"/><circle cx="600.50" cy="228.19" r="2.45" fill="#000"/><circle cx="609.85" cy="217.94" r="2.45" fill="#000"/><circle cx="619.20" cy="208.47" r="2.45" fill="#000"/><circle cx="628.55" cy="199.71" r="2.45" fill="#000"/><circle cx="637.90" cy="191.60" r="2.45" fill="#000"/><circle cx="647.25" cy="184.09" r="2.45" fill="#000"/><circle cx="656.60" cy="177.12" r="2.45" fill="#000"/><circle cx="665.95" cy="170.66" r="2.45" fill="#000"/><circle cx="675.30" cy="164.65" r="2.45" fill="#000"/><circle cx="684.65" cy="159.06" r="2.45" fill="#000"/><circle cx="694.00" cy="153.86" r="2.45" fill="#000"/><circle cx="703.35" cy="149.01" r="2.45" fill="#000"/><circle cx="712.70" cy="144.48" r="2.45" fill="#000"/><circle cx="722.05" cy="140.24" r="2.45" fill="#000"/><circle cx="731.40" cy="136.28" r="2.45" fill="#000"/><circle cx="740.75" cy="132.56" r="2.45" fill="#000"/><circle cx="750.10" cy="129.07" r="2.45" fill="#000"/><circle cx="759.45" cy="125.78" r="2.45" fill="#000"/><circle cx="768.80" cy="122.68" r="2.45" fill="#000"/><circle cx="778.15" cy="119.76" r="2.45" fill="#000"/><circle cx="787.50" cy="117.00" r="2.45" fill="#000"/><circle cx="796.85" cy="114.38" r="2.45" fill="#000"/><circle cx="806.20" cy="111.90" r="2.45" fill="#000"/><circle cx="815.55" cy="109.53" r="2.45" fill="#000"/><circle cx="824.90" cy="107.28" r="2.45" fill="#000"/><circle cx="834.25" cy="105.13" r="2.45" fill="#000"/><circle cx="843.60" cy="103.08" r="2.45" fill="#000"/><circle cx="852.95" cy="101.11" r="2.45" fill="#000"/><circle cx="862.30" cy="99.22" r="2.45" fill="#000"/><circle cx="871.65" cy="97.40" r="2.45" fill="#000"/><circle cx="881.00" cy="95.65" r="2.45" fill="#000"/><circle cx="890.35" cy="93.95" r="2.45" fill="#000"/><circle cx="899.70" cy="92.31" r="2.45" fill="#000"/><circle cx="909.05" cy="90.73" r="2.45" fill="#000"/><circle cx="918.40" cy="89.18" r="2.45" fill="#000"/><circle cx="927.75" cy="87.69" r="2.45" fill="#000"/><circle cx="937.10" cy="86.23" r="2.45" fill="#000"/><circle cx="946.45" cy="84.80" r="2.45" fill="#000"/><circle cx="955.80" cy="83.41" r="2.45" fill="#000"/><circle cx="965.15" cy="82.05" r="2.45" fill="#000"/><circle cx="974.50" cy="80.71" r="2.45" fill="#000"/><circle cx="983.85" cy="79.40" r="2.45" fill="#000"/><circle cx="993.20" cy="78.11" r="2.45" fill="#000"/><circle cx="1002.55" cy="76.85" r="2.45" fill="#000"/>
<path d="M544.40,299.24 L549.07,290.53 L553.75,282.18 L558.42,274.16 L563.10,266.47 L567.77,259.09 L572.45,252.00 L577.12,245.19 L581.80,238.66 L586.48,232.38 L591.15,226.36 L595.82,220.57 L600.50,215.01 L605.17,209.66 L609.85,204.53 L614.52,199.59 L619.20,194.85 L623.88,190.29 L628.55,185.90 L633.23,181.69 L637.90,177.63 L642.57,173.73 L647.25,169.97 L651.92,166.36 L656.60,162.88 L661.27,159.53 L665.95,156.30 L670.62,153.20 L675.30,150.20 L679.98,147.32 L684.65,144.54 L689.33,141.85 L694.00,139.27 L698.67,136.77 L703.35,134.36 L708.02,132.04 L712.70,129.80 L717.38,127.63 L722.05,125.53 L726.73,123.51 L731.40,121.56 L736.08,119.66 L740.75,117.83 L745.42,116.06 L750.10,114.35 L754.77,112.69 L759.45,111.08 L764.12,109.52 L768.80,108.01 L773.48,106.54 L778.15,105.12 L782.83,103.74 L787.50,102.40 L792.17,101.10 L796.85,99.83 L801.52,98.60 L806.20,97.41 L810.88,96.24 L815.55,95.11 L820.22,94.00 L824.90,92.93 L829.58,91.88 L834.25,90.85 L838.92,89.85 L843.60,88.88 L848.27,87.93 L852.95,86.99 L857.62,86.08 L862.30,85.19 L866.97,84.32 L871.65,83.47 L876.33,82.64 L881.00,81.82 L885.67,81.01 L890.35,80.23 L895.02,79.45 L899.70,78.70 L904.38,77.95 L909.05,77.22 L913.72,76.50 L918.40,75.79 L923.08,75.09 L927.75,74.41 L932.42,73.73 L937.10,73.07 L941.77,72.41 L946.45,71.76 L951.12,71.13 L955.80,70.50 L960.47,69.87 L965.15,69.26 L969.83,68.65 L974.50,68.05 L979.17,67.46 L983.85,66.87 L988.52,66.29 L993.20,65.72 L997.88,65.15 L1002.55,64.58 L1007.22,64.02 L1009.10,63.80" stroke="#000" stroke-width="2.25" fill="none"/>
<path d="M544.40,286.60 L549.07,277.91 L553.75,269.57 L558.42,261.57 L563.10,253.90 L567.77,246.53 L572.45,239.47 L577.12,232.69 L581.80,226.18 L586.48,219.93 L591.15,213.93 L595.82,208.17 L600.50,202.63 L605.17,197.32 L609.85,192.21 L614.52,187.30 L619.20,182.59 L623.88,178.05 L628.55,173.70 L633.23,169.50 L637.90,165.47 L642.57,161.60 L647.25,157.87 L651.92,154.28 L656.60,150.82 L661.27,147.50 L665.95,144.29 L670.62,141.21 L675.30,138.23 L679.98,135.37 L684.65,132.60 L689.33,129.94 L694.00,127.37 L698.67,124.89 L703.35,122.50 L708.02,120.19 L712.70,117.96 L717.38,115.81 L722.05,113.72 L726.73,111.71 L731.40,109.76 L736.08,107.88 L740.75,106.06 L745.42,104.29 L750.10,102.59 L754.77,100.93 L759.45,99.33 L764.12,97.77 L768.80,96.26 L773.48,94.80 L778.15,93.38 L782.83,91.99 L787.50,90.65 L792.17,89.35 L796.85,88.08 L801.52,86.85 L806.20,85.65 L810.88,84.48 L815.55,83.34 L820.22,82.22 L824.90,81.14 L829.58,80.08 L834.25,79.05 L838.92,78.04 L843.60,77.06 L848.27,76.09 L852.95,75.15 L857.62,74.23 L862.30,73.33 L866.97,72.44 L871.65,71.58 L876.33,70.73 L881.00,69.89 L885.67,69.08 L890.35,68.27 L895.02,67.49 L899.70,66.71 L904.38,65.95 L909.05,65.20 L913.72,64.46 L918.40,63.73 L923.08,63.02 L927.75,62.31 L932.42,61.62 L937.10,60.93 L941.77,60.26 L946.45,59.59 L951.12,58.93 L955.80,58.28 L960.47,57.63 L965.15,57.00 L969.83,56.37 L974.50,55.75 L979.17,55.13 L983.85,54.52 L988.52,53.92 L993.20,53.32 L997.88,52.72 L1002.55,52.14 L1007.22,51.55 L1009.10,51.32" stroke="#000" stroke-width="2.3" fill="none" stroke-dasharray="5 1.9"/>
<path d="M544.40,274.95 L549.07,266.11 L553.75,257.64 L558.42,249.53 L563.10,241.75 L567.77,234.30 L572.45,227.15 L577.12,220.30 L581.80,213.73 L586.48,207.43 L591.15,201.39 L595.82,195.59 L600.50,190.03 L605.17,184.69 L609.85,179.57 L614.52,174.65 L619.20,169.93 L623.88,165.39 L628.55,161.03 L633.23,156.85 L637.90,152.82 L642.57,148.95 L647.25,145.24 L651.92,141.66 L656.60,138.22 L661.27,134.91 L665.95,131.72 L670.62,128.66 L675.30,125.70 L679.98,122.86 L684.65,120.11 L689.33,117.47 L694.00,114.92 L698.67,112.46 L703.35,110.09 L708.02,107.80 L712.70,105.59 L717.38,103.46 L722.05,101.39 L726.73,99.40 L731.40,97.47 L736.08,95.60 L740.75,93.79 L745.42,92.05 L750.10,90.35 L754.77,88.71 L759.45,87.12 L764.12,85.57 L768.80,84.07 L773.48,82.62 L778.15,81.21 L782.83,79.83 L787.50,78.50 L792.17,77.20 L796.85,75.93 L801.52,74.70 L806.20,73.50 L810.88,72.33 L815.55,71.19 L820.22,70.08 L824.90,69.00 L829.58,67.93 L834.25,66.90 L838.92,65.88 L843.60,64.89 L848.27,63.92 L852.95,62.97 L857.62,62.04 L862.30,61.13 L866.97,60.23 L871.65,59.35 L876.33,58.49 L881.00,57.64 L885.67,56.81 L890.35,55.99 L895.02,55.19 L899.70,54.40 L904.38,53.62 L909.05,52.85 L913.72,52.09 L918.40,51.34 L923.08,50.61 L927.75,49.88 L932.42,49.16 L937.10,48.46 L941.77,47.76 L946.45,47.06 L951.12,46.38 L955.80,45.70 L960.47,45.03 L965.15,44.37 L969.83,43.71 L974.50,43.06 L979.17,42.42 L983.85,41.78 L988.52,41.15 L993.20,40.52 L997.88,39.89 L1002.55,39.27 L1007.22,38.66 L1009.10,38.42" stroke="#000" stroke-width="2.3" fill="none" stroke-dasharray="1.8 1.6"/>
</g>
<rect x="319.8" y="170.4" width="155.2" height="135.4" fill="#fff" stroke="#888" stroke-width="1"/>
<path d="M326.6,183.0 L362.7,183.0" stroke="#000" stroke-width="2"/>
<path d="M326.6,205.2 L362.7,205.2" stroke="#000" stroke-width="2" stroke-dasharray="4.9 1.6"/>
<path d="M326.6,227.4 L362.7,227.4" stroke="#000" stroke-width="2" stroke-dasharray="1.6 1.6"/>
<path d="M326.6,249.3 L362.7,249.3" stroke="#999" stroke-width="0.8"/>
<circle cx="344.70" cy="249.30" r="2.2" fill="#000"/>
<path d="M326.6,271.3 L362.7,271.3" stroke="#777" stroke-width="1"/>
<path d="M342.60,269.20 L346.80,273.40 M342.60,273.40 L346.80,269.20" stroke="#333" stroke-width="0.85" fill="none"/>
<path d="M326.4,293.4 L362.7,293.4" stroke="#999" stroke-width="0.9" stroke-dasharray="5.1 6.2"/>
<circle cx="344.7" cy="293.4" r="3.3" fill="#fff" stroke="#555" stroke-width="0.8"/>
<text x="368.6" y="188.8" class="lg">M=0.1 k′=0.1</text>
<text x="368.6" y="211.0" class="lg">M=0.2</text>
<text x="368.6" y="233.2" class="lg">M=0.3</text>
<text x="368.6" y="255.1" class="lg">M=0.0 k′=-0.1</text>
<text x="368.6" y="277.1" class="lg">M=0.2</text>
<text x="368.6" y="299.2" class="lg">M=0.3</text>
<rect x="768.5" y="159.3" width="181" height="138" fill="#fff" stroke="#888" stroke-width="1"/>
<path d="M780.5,174.4 L842.0,174.4" stroke="#000" stroke-width="2.3"/>
<path d="M780.5,201.6 L842.0,201.6" stroke="#000" stroke-width="2.3" stroke-dasharray="5.5 1.45"/>
<path d="M780.5,228.7 L842.0,228.7" stroke="#000" stroke-width="2.1" stroke-dasharray="1.75 1.75"/>
<path d="M780.9,255.4 L811,255.4 M826,255.4 L842.4,255.4" stroke="#8a8a8a" stroke-width="1"/>
<circle cx="811.20" cy="255.40" r="2.45" fill="#000"/>
<path d="M780.9,281.8 L842.4,281.8" stroke="#999" stroke-width="1.1" stroke-dasharray="5.5 5.8"/>
<path d="M807.70,281.80 L814.70,281.80 M811.20,278.30 L811.20,285.30" stroke="#707070" stroke-width="1" fill="none"/>
<text x="849.6" y="176.8" class="lb">f<tspan dy="6.6" font-size="10">w</tspan><tspan dy="-6.6" letter-spacing="-0.32">=0.0</tspan></text>
<text x="849.6" y="204.0" class="lb">f<tspan dy="6.6" font-size="10">w</tspan><tspan dy="-6.6" letter-spacing="-0.32">=0.02</tspan></text>
<text x="849.6" y="231.1" class="lb">f<tspan dy="6.6" font-size="10">w</tspan><tspan dy="-6.6" letter-spacing="-0.32">=0.04</tspan></text>
<text x="849.6" y="257.8" class="lb">f<tspan dy="6.6" font-size="10">w</tspan><tspan dy="-6.6" letter-spacing="-0.32">=-0.02</tspan></text>
<text x="849.6" y="284.2" class="lb">f<tspan dy="6.6" font-size="10">w</tspan><tspan dy="-6.6" letter-spacing="-0.32">=-0.04</tspan></text>
<text transform="translate(40.0,169.2) rotate(-90)" text-anchor="middle" class="yl" font-size="19" textLength="44.6" lengthAdjust="spacingAndGlyphs">|θ′(0)|</text>
<text transform="translate(516.3,171.2) rotate(-90)" text-anchor="middle" class="yl" font-size="16.8" textLength="39.8" lengthAdjust="spacingAndGlyphs">|θ′(0)|</text>
<text x="282.5" y="356.2" text-anchor="middle" class="kl" font-size="18">K</text>
<text x="778.2" y="357.4" text-anchor="middle" class="kl" font-size="15.8">K</text>
<text x="247" y="393" text-anchor="middle" class="pl"><tspan font-weight="normal">(</tspan>a<tspan font-weight="normal">)</tspan></text>
<text x="744.5" y="393" text-anchor="middle" class="pl"><tspan font-weight="normal">(</tspan>b<tspan font-weight="normal">)</tspan></text>
</svg>
</body></html>
